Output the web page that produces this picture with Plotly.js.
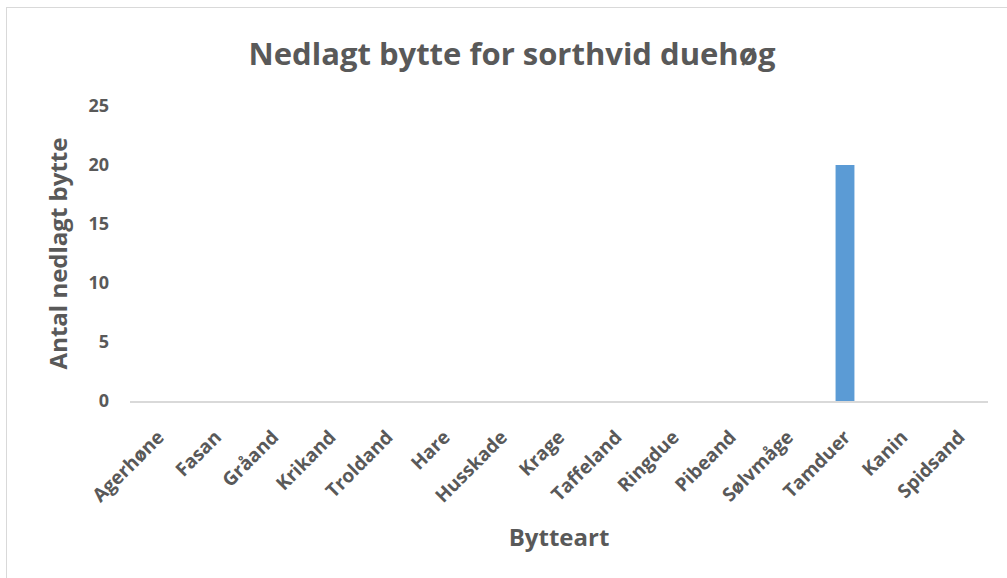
<!DOCTYPE html>
<html>
<head>
<meta charset="utf-8">
<script src="https://cdn.plot.ly/plotly-3.0.1.min.js"></script>
<style>
html,body{margin:0;padding:0;background:#fff;}
#wrap{position:relative;width:1007px;height:578px;overflow:hidden;}
#chart{width:1007px;height:578px;}
#frame{position:absolute;left:6px;top:7px;width:1100px;height:700px;border:1px solid #d9d9d9;pointer-events:none;}
</style>
</head>
<body>
<div id="wrap"><div id="chart"></div><div id="frame"></div></div>
<script>
const categories = ["Agerhøne","Fasan","Gråand","Krikand","Troldand","Hare","Husskade","Krage","Taffeland","Ringdue","Pibeand","Sølvmåge","Tamduer","Kanin","Spidsand"];
const values = [0,0,0,0,0,0,0,0,0,0,0,0,20,0,0];
const yTicks = [0,5,10,15,20,25];

const textColor = "#595959";
const fontFamily = "'Open Sans', 'Liberation Sans', sans-serif";

const trace = {
  type: "bar",
  x: categories,
  y: values,
  marker: {color: "#5B9BD5"},
  width: 0.33,
  hoverinfo: "x+y"
};

const layout = {
  width: 1007,
  height: 578,
  paper_bgcolor: "#ffffff",
  plot_bgcolor: "#ffffff",
  margin: {l: 130, r: 19, t: 106, b: 177},
  showlegend: false,
  font: {family: fontFamily, color: textColor},
  title: {
    text: "<b>Nedlagt bytte for sorthvid duehøg</b>",
    font: {family: fontFamily, size: 31, color: textColor},
    x: 512/1007, xanchor: "center",
    y: 1 - 54/578, yref: "container", yanchor: "middle"
  },
  xaxis: {
    type: "category",
    tickangle: -45,
    tickfont: {family: fontFamily, size: 19, color: textColor, weight: "bold"},
    showline: true,
    linecolor: "#d9d9d9",
    linewidth: 1.5,
    showgrid: false,
    zeroline: false,
    ticks: "",
    ticklabelstandoff: 16,
    automargin: false,
    title: {
      text: "<b>Bytteart</b>",
      font: {family: fontFamily, size: 24, color: textColor},
      standoff: 22
    }
  },
  yaxis: {
    range: [0, 25],
    tickvals: yTicks,
    ticktext: yTicks.map(String),
    tickfont: {family: fontFamily, size: 18, color: textColor, weight: "bold"},
    showline: false,
    showgrid: false,
    zeroline: false,
    ticks: "",
    ticklabelstandoff: 20,
    automargin: false,
    title: {
      text: "<b>Antal nedlagt bytte</b>",
      font: {family: fontFamily, size: 24, color: textColor},
      standoff: 14
    }
  }
};

Plotly.newPlot("chart", [trace], layout, {displayModeBar: false, staticPlot: true});
</script>
</body>
</html>
